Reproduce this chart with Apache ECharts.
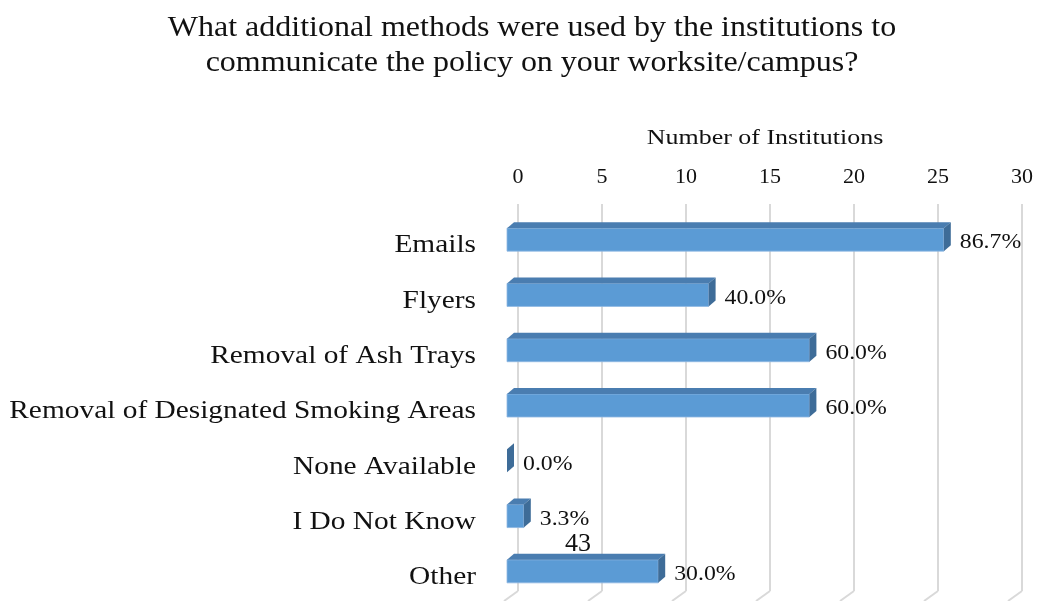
<!DOCTYPE html>
<html>
<head>
<meta charset="utf-8">
<script src="https://cdn.jsdelivr.net/npm/echarts@6/dist/echarts.min.js"></script>
<style>
  html, body { margin: 0; padding: 0; background: #fff; }
  #chart { width: 1037px; height: 601px; }
</style>
</head>
<body>
<div id="chart"></div>
<script>
// Survey responses: how the smoke-free policy was communicated
const categories = [
  'Emails',
  'Flyers',
  'Removal of Ash Trays',
  'Removal of Designated Smoking Areas',
  'None Available',
  'I Do Not Know',
  'Other'
];
const counts = [26, 12, 18, 18, 0, 1, 9];
const totalInstitutions = 30;
const tickValues = [0, 5, 10, 15, 20, 25, 30];
const titleText = 'What additional methods were used by the institutions to\ncommunicate the policy on your worksite/campus?';
const axisTitle = 'Number of Institutions';
const pageNumber = '43';

const FONT = '"Liberation Serif", "Times New Roman", serif';
const INK = '#111';
const FRONT = '#5b9bd5';
const TOP = '#4a7db0';
const SIDE = '#3e6c98';

// 3D look: front face sits in front of the back wall, with a visible top and right side
const FRONT_DX = -11, FRONT_DY = 8, DEPTH_X = 7, DEPTH_Y = -6, BAR_H = 23;

const chart = echarts.init(document.getElementById('chart'));

function renderBar(params, api) {
  const idx = api.value(0);
  const v = api.value(1);
  const p0 = api.coord([0, idx]);
  const p1 = api.coord([v, idx]);
  const x0 = p0[0] + FRONT_DX;
  const x1 = p1[0] + FRONT_DX;
  const cy = p0[1] + FRONT_DY;
  const yt = cy - BAR_H / 2;
  const yb = cy + BAR_H / 2;
  const pct = (v / totalInstitutions * 100).toFixed(1) + '%';
  const children = [];
  if (x1 > x0) {
    children.push({
      type: 'rect',
      shape: { x: x0, y: yt, width: x1 - x0, height: BAR_H },
      style: { fill: FRONT, stroke: '#8fb8e2', lineWidth: 0.8 }
    });
  }
  children.push({
    type: 'polygon',
    shape: { points: [[x0, yt], [x1, yt], [x1 + DEPTH_X, yt + DEPTH_Y], [x0 + DEPTH_X, yt + DEPTH_Y]] },
    style: { fill: TOP }
  });
  children.push({
    type: 'polygon',
    shape: { points: [[x1, yt], [x1 + DEPTH_X, yt + DEPTH_Y], [x1 + DEPTH_X, yb + DEPTH_Y], [x1, yb]] },
    style: { fill: SIDE }
  });
  // value label to the right of the bar
  children.push({
    type: 'text',
    x: x1 + DEPTH_X + 9,
    y: cy + 3,
    scaleX: 1.08,
    style: {
      text: pct, x: 0, y: 0,
      align: 'left', verticalAlign: 'middle',
      font: '22px ' + FONT, fill: INK
    }
  });
  // category label on the left
  children.push({
    type: 'text',
    x: p0[0] - 42,
    y: cy + 6,
    scaleX: 1.13,
    style: {
      text: categories[idx], x: 0, y: 0,
      align: 'right', verticalAlign: 'middle',
      font: '26px ' + FONT, fill: INK
    }
  });
  return { type: 'group', children: children };
}

function renderFloorLine(params, api) {
  const v = api.value(0);
  const top = api.coord([v, 0]);
  const bottomY = params.coordSys.y + params.coordSys.height;
  const x = top[0];
  return {
    type: 'polyline',
    shape: { points: [[x, bottomY], [x - 14, bottomY + 10]] },
    style: { stroke: '#d9d9d9', lineWidth: 2, fill: null }
  };
}

chart.setOption({
  backgroundColor: '#fff',
  animation: false,
  grid: { left: 518, right: 15, top: 204, bottom: 10, containLabel: false },
  xAxis: {
    type: 'value',
    position: 'top',
    min: 0,
    max: 30,
    interval: 5,
    axisLine: { show: false },
    axisTick: { show: false },
    axisLabel: { fontFamily: FONT, fontSize: 22, color: INK, margin: 16 },
    splitLine: { show: true, lineStyle: { color: '#d9d9d9', width: 2 } }
  },
  yAxis: {
    type: 'category',
    inverse: true,
    data: categories,
    axisLine: { show: false },
    axisTick: { show: false },
    splitLine: { show: false },
    axisLabel: { show: false }
  },
  series: [
    {
      type: 'custom',
      renderItem: renderFloorLine,
      data: tickValues.map(t => [t]),
      encode: { x: 0 },
      clip: false,
      silent: true,
      z: 1
    },
    {
      type: 'custom',
      renderItem: renderBar,
      data: counts.map((c, i) => [i, c]),
      encode: { y: 0, x: 1 },
      clip: false,
      z: 3
    }
  ],
  graphic: [
    {
      type: 'text',
      x: 532,
      y: 11,
      scaleX: 1.066,
      style: {
        text: titleText, x: 0, y: 0,
        align: 'center', verticalAlign: 'top',
        font: '30px ' + FONT, lineHeight: 35, fill: INK
      }
    },
    {
      type: 'text',
      x: 765,
      y: 138,
      scaleX: 1.18,
      style: {
        text: axisTitle, x: 0, y: 0,
        align: 'center', verticalAlign: 'middle',
        font: '22px ' + FONT, fill: INK
      }
    },
    {
      type: 'text',
      x: 565,
      y: 531,
      style: { text: pageNumber, x: 0, y: 0, font: '26px ' + FONT, fill: INK },
      z: 10
    }
  ]
});
</script>
</body>
</html>
